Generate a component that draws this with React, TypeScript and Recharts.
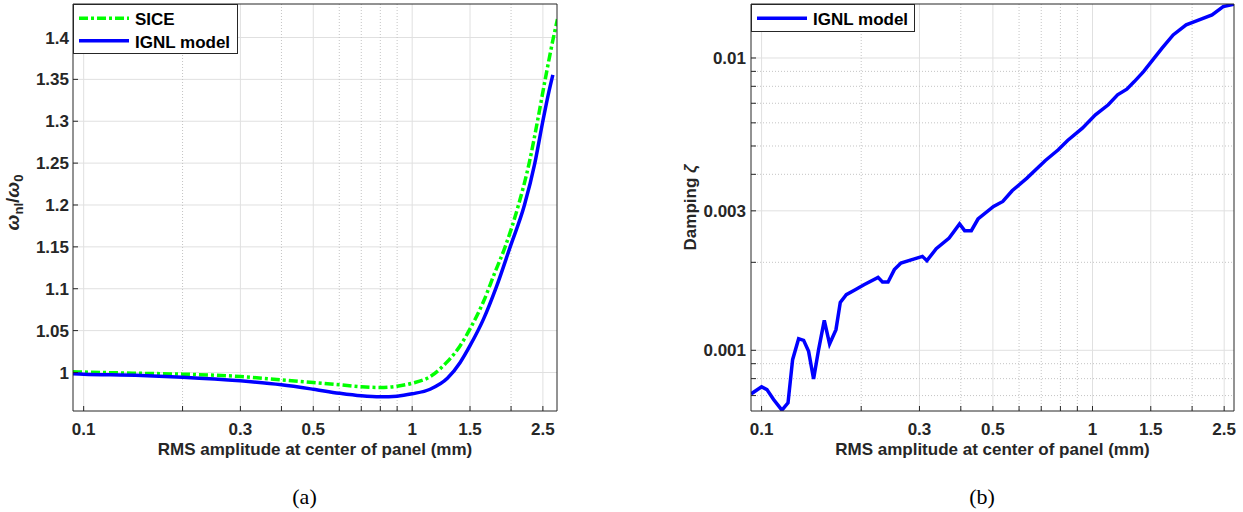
import { LineChart, Line, XAxis, YAxis, CartesianGrid, ReferenceLine, Label } from 'recharts';

const FONT = '"Liberation Sans", Arial, Helvetica, sans-serif';
const INK = '#262626';

// (a) nonlinear / linear frequency ratio vs RMS amplitude
const sicAmp = [0.0928, 0.1, 0.15, 0.2, 0.3, 0.4, 0.5, 0.6, 0.7, 0.8, 0.9, 1.0, 1.134, 1.28, 1.4, 1.5, 1.65, 1.78, 1.919, 2.107, 2.271, 2.407, 2.541, 2.692, 2.769];
const sicRatio = [1.0008, 1.0005, 0.999, 0.998, 0.9952, 0.9912, 0.988, 0.9853, 0.9829, 0.9821, 0.9836, 0.9872, 0.995, 1.013, 1.032, 1.052, 1.085, 1.118, 1.15, 1.2, 1.25, 1.3, 1.35, 1.4, 1.4219];
const ignlAmp = [0.0928, 0.1, 0.15, 0.2, 0.3, 0.4, 0.5, 0.6, 0.7, 0.8, 0.9, 1.0, 1.134, 1.28, 1.4, 1.5, 1.65, 1.8, 1.988, 2.197, 2.363, 2.499, 2.6, 2.681];
const ignlRatio = [0.9984, 0.998, 0.9965, 0.9944, 0.99, 0.9853, 0.98, 0.9752, 0.9721, 0.9709, 0.9717, 0.9745, 0.98, 0.993, 1.012, 1.032, 1.064, 1.101, 1.15, 1.2, 1.25, 1.3, 1.333, 1.3553];

// (b) damping vs RMS amplitude
const dampAmp = [0.0929, 0.1, 0.1038, 0.1087, 0.1152, 0.1202, 0.1241, 0.1294, 0.134, 0.1387, 0.1436, 0.1487, 0.1547, 0.1605, 0.1678, 0.1729, 0.1803, 0.1919, 0.2039, 0.2249, 0.2319, 0.2411, 0.2519, 0.2637, 0.3062, 0.3159, 0.3371, 0.3688, 0.3965, 0.4108, 0.4304, 0.4509, 0.5023, 0.5358, 0.5717, 0.6337, 0.7206, 0.7882, 0.8409, 0.9322, 1.0205, 1.1161, 1.1907, 1.27, 1.3377, 1.4263, 1.5212, 1.6229, 1.753, 1.9189, 2.0718, 2.2976, 2.4831, 2.6853];
const dampZeta = [0.000709, 0.00075, 0.000734, 0.000679, 0.000624, 0.000661, 0.000929, 0.001096, 0.001082, 0.000992, 0.000798, 0.001006, 0.001266, 0.001052, 0.001177, 0.001459, 0.00155, 0.001612, 0.001677, 0.001776, 0.001713, 0.001713, 0.001888, 0.001989, 0.002096, 0.002026, 0.002226, 0.002422, 0.002704, 0.002566, 0.002566, 0.002813, 0.003105, 0.00323, 0.003514, 0.003883, 0.004461, 0.004852, 0.005221, 0.005756, 0.006391, 0.006916, 0.007479, 0.007823, 0.008304, 0.008984, 0.009851, 0.010802, 0.011995, 0.012976, 0.013418, 0.014041, 0.014984, 0.015303];

const ampTicks = [0.1, 0.3, 0.5, 1, 1.5, 2.5];
const ampMinor = [0.2, 0.4, 0.6, 0.7, 0.8, 0.9, 2];
const ratioTicks = [1, 1.05, 1.1, 1.15, 1.2, 1.25, 1.3, 1.35, 1.4];
const zetaTicks = [0.001, 0.003, 0.01];
const zetaMinor = [0.0007, 0.0008, 0.0009, 0.002, 0.004, 0.005, 0.006, 0.007, 0.008, 0.009];

const ampDomainA = [0.0928, 2.76];
const ratioDomain = [0.954, 1.44];
const ampDomainB = [0.0929, 2.677];
const zetaDomain = [0.00062, 0.0153];

const toPoints = (xs: number[], ys: number[]) => xs.map((x, i) => ({ x, y: ys[i] }));
const sice = toPoints(sicAmp, sicRatio);
const ignl = toPoints(ignlAmp, ignlRatio);
const damping = toPoints(dampAmp, dampZeta);

const tickStyle = { fill: INK, fontSize: 17, fontWeight: 700, fontFamily: FONT };
const allAmpTicks = [...ampTicks, ...ampMinor];
const allZetaTicks = [...zetaTicks, ...zetaMinor];
const ampFmt = (v: number) => (ampTicks.includes(v) ? String(v) : '');
const zetaFmt = (v: number) => (zetaTicks.includes(v) ? String(v) : '');

const AmpLabel = ({ viewBox }: any) => (
  <text
    x={viewBox.x + viewBox.width / 2}
    y={viewBox.y + 44}
    textAnchor="middle"
    fill={INK}
    fontSize={17}
    fontWeight={700}
    fontFamily={FONT}
  >
    RMS amplitude at center of panel (mm)
  </text>
);

const RatioLabel = ({ viewBox }: any) => {
  const cx = viewBox.x + 19;
  const cy = viewBox.y + viewBox.height / 2 - 5;
  return (
    <text transform={`rotate(-90 ${cx} ${cy})`} x={cx} y={cy} textAnchor="middle" fill={INK} fontSize={19} fontWeight={700} fontFamily={FONT}>
      <tspan fontStyle="italic">ω</tspan>
      <tspan fontSize={13} dy={4}>nl</tspan>
      <tspan dy={-4}>/</tspan>
      <tspan fontStyle="italic">ω</tspan>
      <tspan fontSize={13} dy={4}>0</tspan>
    </text>
  );
};

const DampingLabel = ({ viewBox }: any) => {
  const cx = viewBox.x + 76;
  const cy = viewBox.y + viewBox.height / 2;
  return (
    <text transform={`rotate(-90 ${cx} ${cy})`} x={cx} y={cy} textAnchor="middle" fill={INK} fontSize={17} fontWeight={700} fontFamily={FONT}>
      Damping <tspan fontStyle="italic">ζ</tspan>
    </text>
  );
};

type LegendItem = { label: string; color: string; dash?: string };

function LegendBox({ left, width, height, items }: { left: number; width: number; height: number; items: LegendItem[] }) {
  return (
    <svg style={{ position: 'absolute', left, top: 4 }} width={width} height={height}>
      <rect x={0.5} y={0.5} width={width - 1} height={height - 1} fill="#fff" stroke={INK} strokeWidth={1} />
      {items.map((it, i) => (
        <g key={it.label}>
          <line x1={6} x2={56} y1={14.3 + 22.4 * i} y2={14.3 + 22.4 * i} stroke={it.color} strokeWidth={3.5} strokeDasharray={it.dash} />
          <text x={62} y={21 + 23.3 * i} fill="#000" fontSize={17} fontWeight={700} fontFamily={FONT}>
            {it.label}
          </text>
        </g>
      ))}
    </svg>
  );
}

const axisLine = { stroke: INK, strokeWidth: 1 };

function RatioChart() {
  return (
    <LineChart width={600} height={470} margin={{ top: 4, right: 43, bottom: 0, left: 0 }}>
      <CartesianGrid stroke="#e0e0e0" verticalValues={ampTicks} horizontalValues={ratioTicks} />
      <CartesianGrid stroke="#c4c4c4" strokeDasharray="1 2" horizontal={false} verticalValues={ampMinor} />
      <XAxis
        dataKey="x"
        type="number"
        scale="log"
        domain={ampDomainA}
        allowDataOverflow
        ticks={allAmpTicks}
        interval={0}
        tickFormatter={ampFmt}
        height={59}
        tickSize={-5}
        tickMargin={17}
        axisLine={axisLine}
        tickLine={axisLine}
        tick={tickStyle}
      >
        <Label content={AmpLabel} />
      </XAxis>
      <YAxis
        dataKey="y"
        type="number"
        domain={ratioDomain}
        allowDataOverflow
        ticks={ratioTicks}
        interval={0}
        width={73}
        tickSize={-5}
        tickMargin={9}
        axisLine={axisLine}
        tickLine={axisLine}
        tick={tickStyle}
      >
        <Label content={RatioLabel} />
      </YAxis>
      <Line data={sice} dataKey="y" type="monotone" stroke="#00ff00" strokeWidth={3.5} strokeDasharray="9 3 3 3" dot={false} isAnimationActive={false} />
      <Line data={ignl} dataKey="y" type="monotone" stroke="#0000ff" strokeWidth={3.5} dot={false} isAnimationActive={false} />
      <ReferenceLine x={ampDomainA[1]} stroke={INK} strokeWidth={1} />
      <ReferenceLine y={ratioDomain[1]} stroke={INK} strokeWidth={1} />
    </LineChart>
  );
}

function DampingChart() {
  return (
    <LineChart width={623} height={470} margin={{ top: 4, right: 9, bottom: 0, left: 0 }}>
      <CartesianGrid stroke="#e0e0e0" verticalValues={ampTicks} horizontalValues={zetaTicks} />
      <CartesianGrid stroke="#c4c4c4" strokeDasharray="1 2" verticalValues={ampMinor} horizontalValues={zetaMinor} />
      <XAxis
        dataKey="x"
        type="number"
        scale="log"
        domain={ampDomainB}
        allowDataOverflow
        ticks={allAmpTicks}
        interval={0}
        tickFormatter={ampFmt}
        height={59}
        tickSize={-5}
        tickMargin={17}
        axisLine={axisLine}
        tickLine={axisLine}
        tick={tickStyle}
      >
        <Label content={AmpLabel} />
      </XAxis>
      <YAxis
        dataKey="y"
        type="number"
        scale="log"
        domain={zetaDomain}
        allowDataOverflow
        ticks={allZetaTicks}
        interval={0}
        tickFormatter={zetaFmt}
        width={131}
        tickSize={-5}
        tickMargin={10}
        axisLine={axisLine}
        tickLine={axisLine}
        tick={tickStyle}
      >
        <Label content={DampingLabel} />
      </YAxis>
      <Line data={damping} dataKey="y" type="linear" stroke="#0000ff" strokeWidth={3.5} dot={false} isAnimationActive={false} />
      <ReferenceLine x={ampDomainB[1]} stroke={INK} strokeWidth={1} />
      <ReferenceLine y={zetaDomain[1]} stroke={INK} strokeWidth={1} />
    </LineChart>
  );
}

const captionStyle = {
  position: 'absolute' as const,
  top: 486,
  fontFamily: '"Liberation Serif", "Times New Roman", serif',
  fontSize: 22,
  lineHeight: '22px',
  color: '#000',
  transform: 'translateX(-50%)',
};

export default function App() {
  return (
    <div style={{ position: 'absolute', left: 0, top: 0, width: 1243, height: 512, background: '#fff', overflow: 'hidden' }}>
      <div style={{ position: 'absolute', left: 0, top: 0 }}>
        <RatioChart />
      </div>
      <div style={{ position: 'absolute', left: 620, top: 0 }}>
        <DampingChart />
      </div>
      <LegendBox
        left={73}
        width={165}
        height={50}
        items={[
          { label: 'SICE', color: '#00ff00', dash: '9 3 3 3' },
          { label: 'IGNL model', color: '#0000ff' },
        ]}
      />
      <LegendBox left={751} width={164} height={28} items={[{ label: 'IGNL model', color: '#0000ff' }]} />
      <div style={{ ...captionStyle, left: 304.5 }}>(a)</div>
      <div style={{ ...captionStyle, left: 982 }}>(b)</div>
    </div>
  );
}
